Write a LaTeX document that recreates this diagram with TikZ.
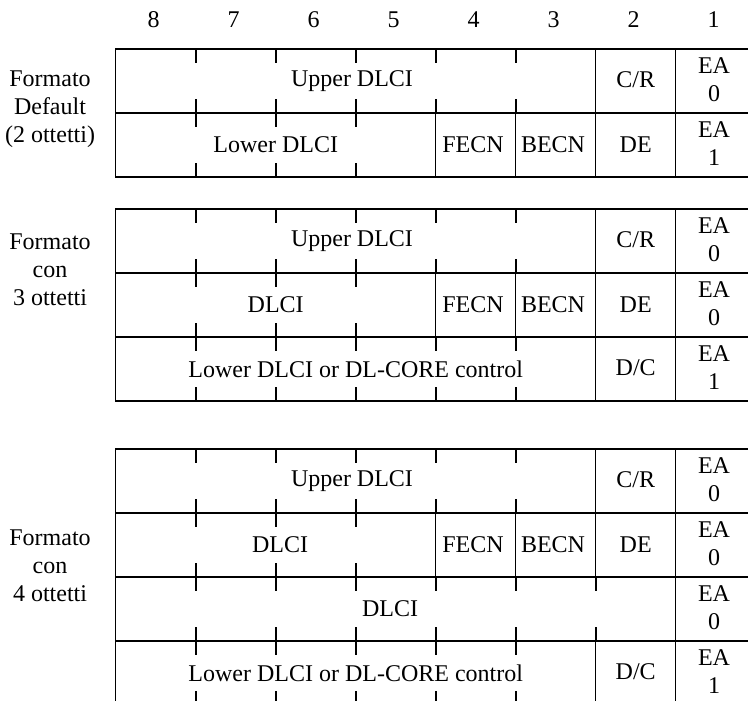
\documentclass[tikz,border=0pt]{standalone}
\usepackage{fontspec}
\setmainfont{Liberation Serif}
\begin{document}
\begin{tikzpicture}[x=0.5pt,y=-0.5pt,
        cell/.style={line width=0.75pt},
        tick/.style={line width=0.85pt},
        lbl/.style={align=center},
        every node/.style={font=\fontsize{12}{14}\selectfont,inner sep=0pt}]
        \useasboundingbox (0,0) rectangle (748,700);
        \clip (0,0) rectangle (748,700);
        % bit numbers
        \foreach \b [count=\i from 0] in {8,...,1}
            \node (bit\b) at (153.7+80*\i,20) {\b};
        % Formato Default (2 ottetti)
        \draw[cell] (115.7,49) rectangle (755.7,177) (115.7,113) -- (755.7,113);
        \foreach \i in {6,7} \draw[cell] (115.7+80*\i,49) -- ++(0,64);
        \foreach \i in {1,...,5} \draw[tick] (115.7+80*\i,49) -- ++(0,14) (115.7+80*\i,113) -- ++(0,-14);
        \foreach \i in {4,...,7} \draw[cell] (115.7+80*\i,113) -- ++(0,64);
        \foreach \i in {1,2,3} \draw[tick] (115.7+80*\i,113) -- ++(0,14) (115.7+80*\i,177) -- ++(0,-14);
        \node[lbl] (fmtdef) at (50,109) {Formato\\Default\\(2 ottetti)};
        \node (upperA) at (352,81) {Upper DLCI};
        \node (crA) at (635.7,80) {C/R};
        \node[lbl] (eaA1) at (714,80) {EA\\0};
        \node (lowerA) at (275.7,145) {Lower DLCI};
        \node (fecnA) at (473,145) {FECN};
        \node (becnA) at (553,145) {BECN};
        \node (deA) at (635.7,145) {DE};
        \node[lbl] (eaA2) at (714,144) {EA\\1};
        % Formato con 3 ottetti
        \draw[cell] (115.7,209) rectangle (755.7,401) (115.7,273) -- (755.7,273) (115.7,337) -- (755.7,337);
        \foreach \i in {6,7} \draw[cell] (115.7+80*\i,209) -- ++(0,64) (115.7+80*\i,337) -- ++(0,64);
        \foreach \i in {1,...,5} \draw[tick] (115.7+80*\i,209) -- ++(0,14) (115.7+80*\i,273) -- ++(0,-14)
            (115.7+80*\i,337) -- ++(0,14) (115.7+80*\i,401) -- ++(0,-14);
        \foreach \i in {4,...,7} \draw[cell] (115.7+80*\i,273) -- ++(0,64);
        \foreach \i in {1,2,3} \draw[tick] (115.7+80*\i,273) -- ++(0,14) (115.7+80*\i,337) -- ++(0,-14);
        \node[lbl] (fmtthree) at (50,270) {Formato\\con\\3 ottetti};
        \node (upperB) at (352,241) {Upper DLCI};
        \node (crB) at (635.7,240) {C/R};
        \node[lbl] (eaB1) at (714,240) {EA\\0};
        \node (dlciB) at (275.7,305) {DLCI};
        \node (fecnB) at (473,305) {FECN};
        \node (becnB) at (553,305) {BECN};
        \node (deB) at (635.7,305) {DE};
        \node[lbl] (eaB2) at (714,304) {EA\\0};
        \node (lowerB) at (355.7,369) {Lower DLCI or DL-CORE control};
        \node (dcB) at (635.7,368) {D/C};
        \node[lbl] (eaB3) at (714,368) {EA\\1};
        % Formato con 4 ottetti
        \draw[cell] (115.7,449) rectangle (755.7,705) (115.7,513) -- (755.7,513) (115.7,577) -- (755.7,577) (115.7,641) -- (755.7,641);
        \foreach \i in {6,7} \draw[cell] (115.7+80*\i,449) -- ++(0,64) (115.7+80*\i,641) -- ++(0,64);
        \foreach \i in {1,...,5} \draw[tick] (115.7+80*\i,449) -- ++(0,14) (115.7+80*\i,513) -- ++(0,-14)
            (115.7+80*\i,641) -- ++(0,14) (115.7+80*\i,705) -- ++(0,-14);
        \foreach \i in {4,...,7} \draw[cell] (115.7+80*\i,513) -- ++(0,64);
        \foreach \i in {1,2,3} \draw[tick] (115.7+80*\i,513) -- ++(0,14) (115.7+80*\i,577) -- ++(0,-14);
        \draw[cell] (675.7,577) -- ++(0,64);
        \foreach \i in {1,...,6} \draw[tick] (115.7+80*\i,577) -- ++(0,14) (115.7+80*\i,641) -- ++(0,-14);
        \node[lbl] (fmtfour) at (50,566) {Formato\\con\\4 ottetti};
        \node (upperC) at (352,481) {Upper DLCI};
        \node (crC) at (635.7,480) {C/R};
        \node[lbl] (eaC1) at (714,480) {EA\\0};
        \node (dlciC) at (280,545) {DLCI};
        \node (fecnC) at (473,545) {FECN};
        \node (becnC) at (553,545) {BECN};
        \node (deC) at (635.7,545) {DE};
        \node[lbl] (eaC2) at (714,544) {EA\\0};
        \node (midC) at (390,609) {DLCI};
        \node[lbl] (eaC3) at (714,608) {EA\\0};
        \node (lowerC) at (355.7,673) {Lower DLCI or DL-CORE control};
        \node (dcC) at (635.7,672) {D/C};
        \node[lbl] (eaC4) at (714,672) {EA\\1};
    \end{tikzpicture}
\end{document}
